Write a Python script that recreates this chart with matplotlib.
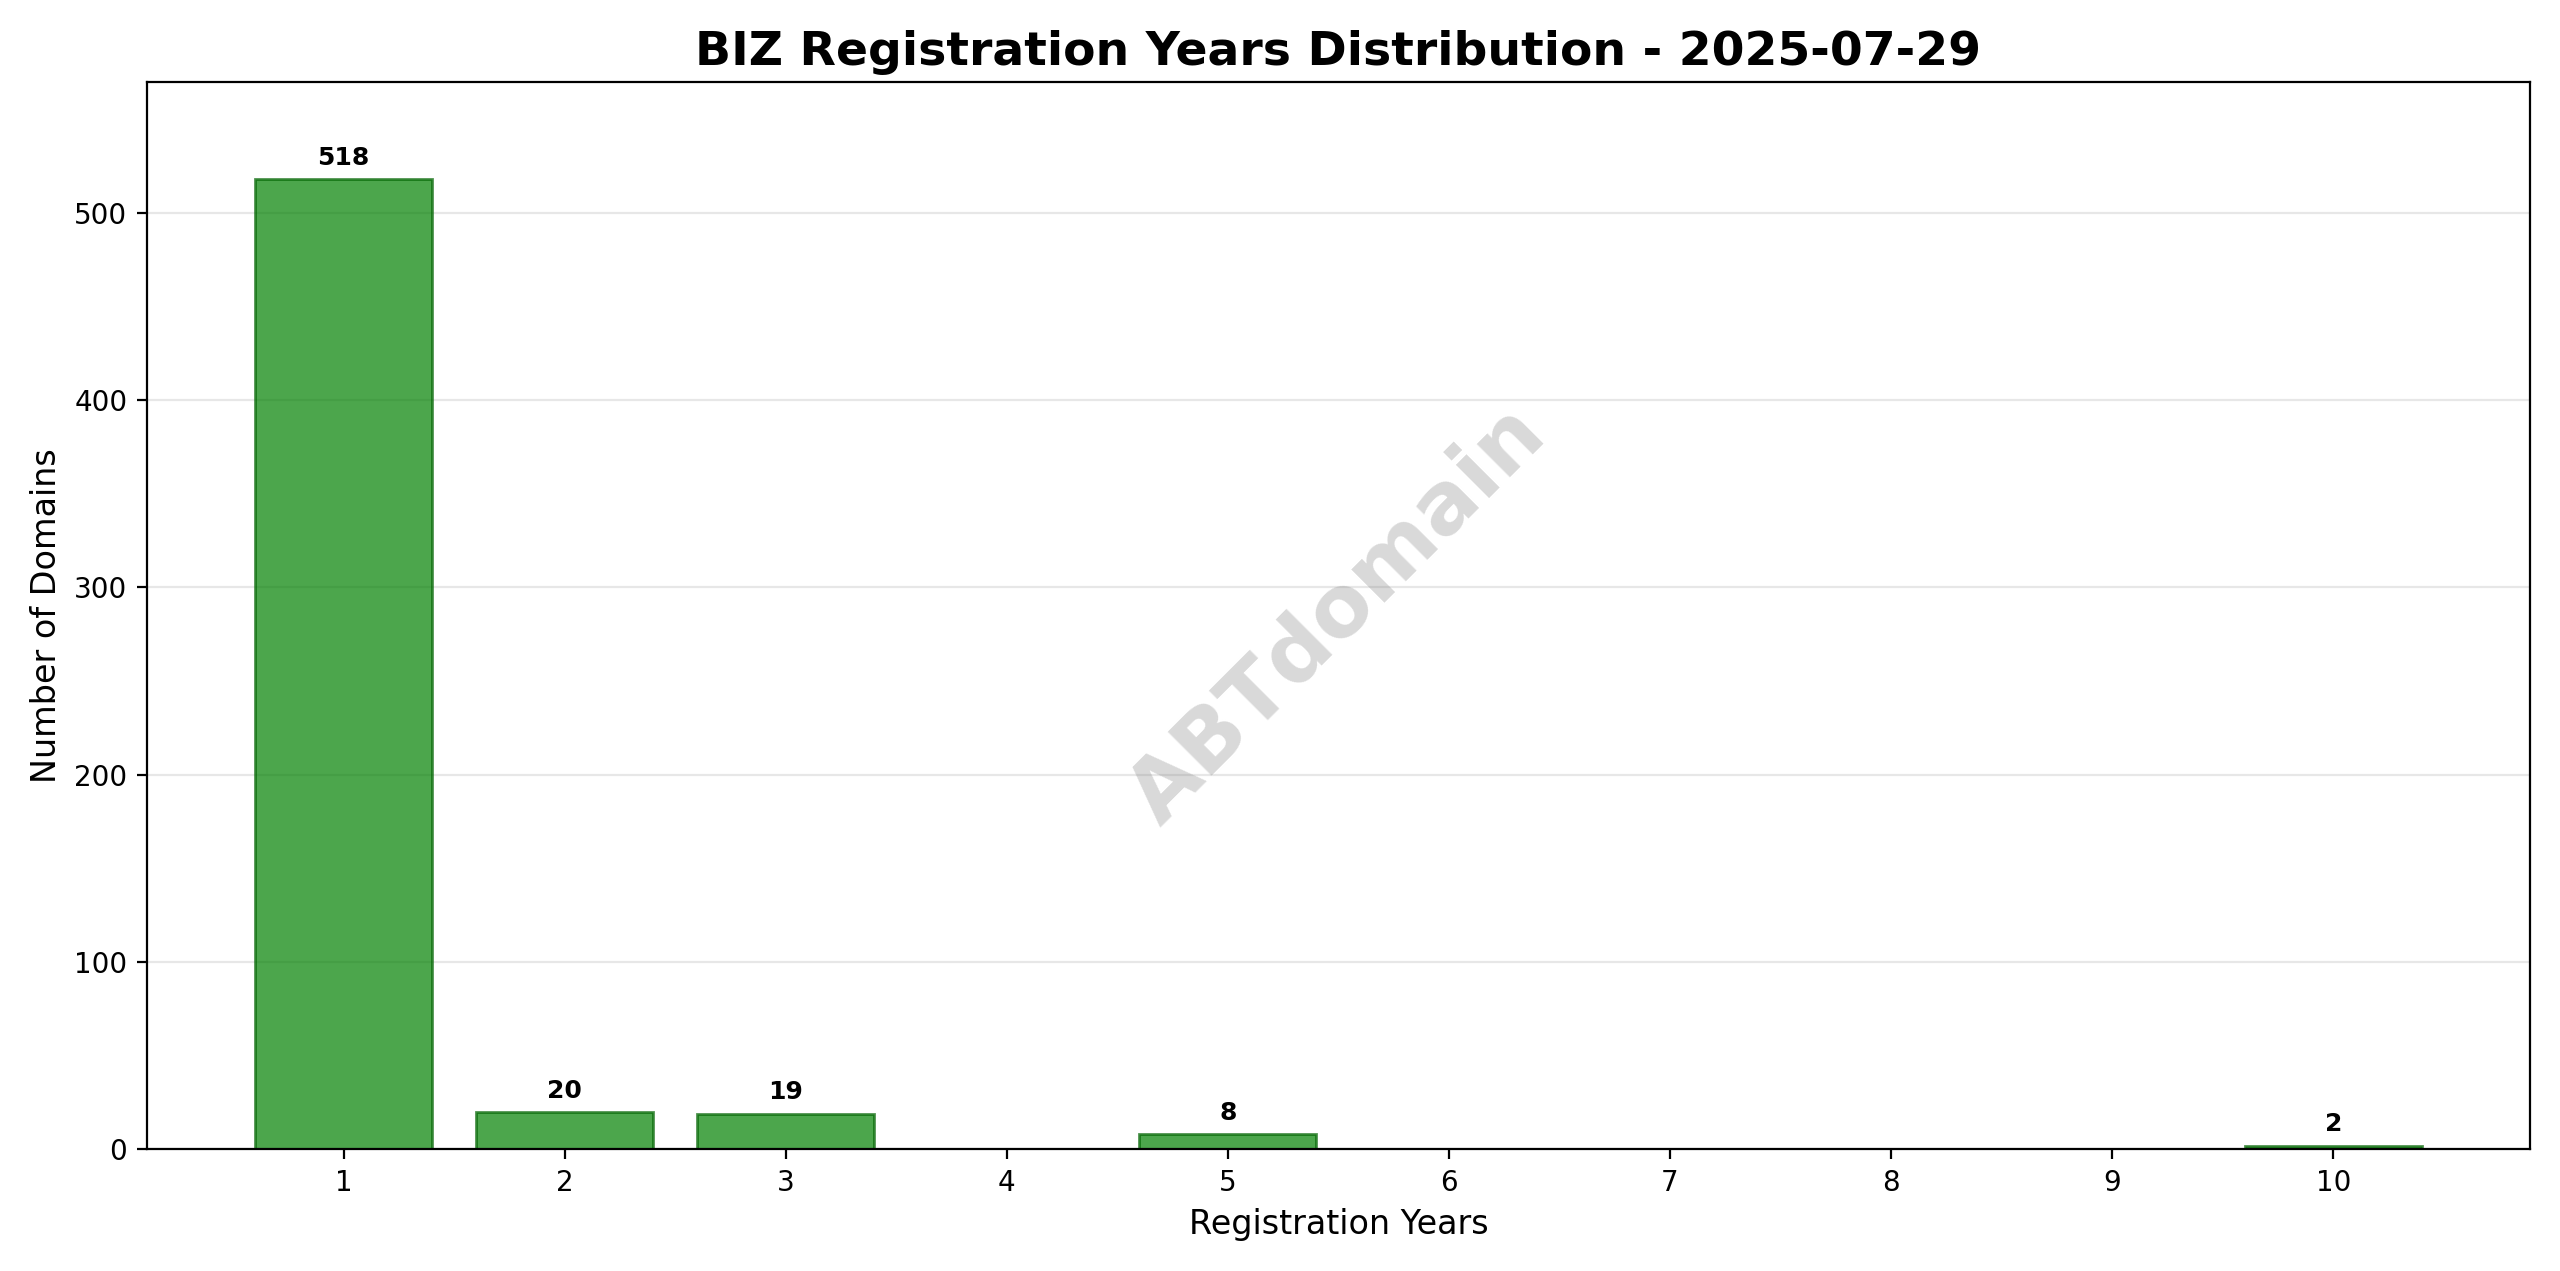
import matplotlib
matplotlib.use('Agg')
import matplotlib.pyplot as plt

years = [1, 2, 3, 5, 10]
counts = [518, 20, 19, 8, 2]
title = 'BIZ Registration Years Distribution - 2025-07-29'

fig, ax = plt.subplots(figsize=(12.8, 6.355), dpi=200)
bars = ax.bar(years, counts, color='green', alpha=0.7, edgecolor='darkgreen', linewidth=1)
for b, c in zip(bars, counts):
    ax.text(b.get_x() + b.get_width() / 2, b.get_height() + 5, str(c),
            ha='center', va='bottom', fontsize=9, fontweight='bold')

ax.set_title(title, fontsize=17, fontweight='bold')
ax.set_xlabel('Registration Years', fontsize=12)
ax.set_ylabel('Number of Domains', fontsize=12)
ax.set_xticks(range(1, 11))
ax.set_ylim(0, 570)
ax.grid(axis='y', alpha=0.3)
ax.set_axisbelow(True)
ax.text(0.5, 0.5, 'ABTdomain', transform=ax.transAxes, fontsize=31, color='gray',
        alpha=0.3, ha='center', va='center', rotation=45, fontweight='bold')

fig.tight_layout()
fig.savefig('out.png', dpi=200)
